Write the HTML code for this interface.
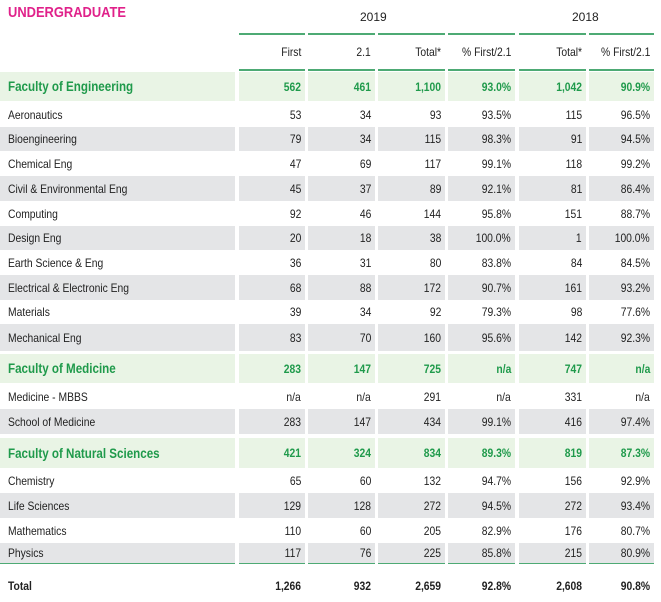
<!DOCTYPE html>
<html><head><meta charset="utf-8"><style>
body{margin:0;background:#fff;width:661px;height:602px;overflow:hidden;position:relative;font-family:"Liberation Sans",sans-serif;color:#222;}
.c{position:absolute;box-sizing:border-box;font-size:12px;display:flex;align-items:center;white-space:nowrap;}
.c span{display:inline-block;transform:scaleX(.86);}
.r{justify-content:flex-end;padding-right:4px;}
.r span{transform-origin:right center;}
.l{padding-left:8px;}
.l span{transform-origin:left center;}
.g{background:#e4e5e7}.f{background:#e9f4e5;color:#1f9a4b;font-weight:bold;}
.line{position:absolute;height:2px;background:#4daa74;}
</style></head><body>
<div class="c l" style="left:0px;top:2px;height:20px;color:#e0218a;font-weight:bold;font-size:15px"><span>UNDERGRADUATE</span></div>
<div class="c" style="left:360px;top:8px;height:18px;font-size:12px">2019</div>
<div class="c" style="left:572px;top:8px;height:18px;font-size:12px">2018</div>
<div id="t"></div>
<script>
const colX=[[239,305],[308,375],[378,445],[448,515],[519,586],[589,654]];
const headers=["First","2.1","Total*","% First/2.1","Total*","% First/2.1"];
const names=["Faculty of Engineering","Aeronautics","Bioengineering","Chemical Eng","Civil & Environmental Eng","Computing","Design Eng","Earth Science & Eng","Electrical & Electronic Eng","Materials","Mechanical Eng","Faculty of Medicine","Medicine - MBBS","School of Medicine","Faculty of Natural Sciences","Chemistry","Life Sciences","Mathematics","Physics","Total"];
const kinds=["f","w","g","w","g","w","g","w","g","w","g","f","w","g","f","w","g","w","g","t"];
const tops=[72,102,127,151,176,201,226,250,275,300,324,354,384,409,438,469,493,518,543,572];
const hts=[29,25,24,25,25,25,24,25,25,24,27,29,25,25,30,24,25,25,20,28];
const values=[
["562","461","1,100","93.0%","1,042","90.9%"],
["53","34","93","93.5%","115","96.5%"],
["79","34","115","98.3%","91","94.5%"],
["47","69","117","99.1%","118","99.2%"],
["45","37","89","92.1%","81","86.4%"],
["92","46","144","95.8%","151","88.7%"],
["20","18","38","100.0%","1","100.0%"],
["36","31","80","83.8%","84","84.5%"],
["68","88","172","90.7%","161","93.2%"],
["39","34","92","79.3%","98","77.6%"],
["83","70","160","95.6%","142","92.3%"],
["283","147","725","n/a","747","n/a"],
["n/a","n/a","291","n/a","331","n/a"],
["283","147","434","99.1%","416","97.4%"],
["421","324","834","89.3%","819","87.3%"],
["65","60","132","94.7%","156","92.9%"],
["129","128","272","94.5%","272","93.4%"],
["110","60","205","82.9%","176","80.7%"],
["117","76","225","85.8%","215","80.9%"],
["1,266","932","2,659","92.8%","2,608","90.8%"]];
const t=document.getElementById('t');
function mk(cls,x,y,w,h,txt){const d=document.createElement('div');d.className='c '+cls;d.style.cssText=`left:${x}px;top:${y}px;width:${w}px;height:${h}px`;const s=document.createElement('span');s.textContent=txt;d.appendChild(s);t.appendChild(d);return d;}
headers.forEach((h,i)=>{const d=mk('r',colX[i][0],36,colX[i][1]-colX[i][0],32,h);

});
colX.forEach(c=>{[33,69].forEach(y=>{const l=document.createElement('div');l.className='line';l.style.cssText=`left:${c[0]}px;top:${y}px;width:${c[1]-c[0]}px`;


t.appendChild(l);});});
[[0,235]].concat(colX).forEach(c=>{const l=document.createElement('div');l.className='line';l.style.cssText=`left:${c[0]}px;top:562px;width:${c[1]-c[0]}px`;


t.appendChild(l);});
names.forEach((n,r)=>{const k=kinds[r];const cls=k==='f'?'f':k==='g'?'g':'';
const bold=k==='t';
const lab=mk('l '+cls,0,tops[r],235,hts[r],n);
if(k==='f')lab.style.fontSize='13.5px';
if(bold)lab.style.fontWeight='bold';


values[r].forEach((v,i)=>{const d=mk('r '+cls,colX[i][0],tops[r],colX[i][1]-colX[i][0],hts[r],v);
if(bold)d.style.fontWeight='bold';

});});
</script>
</body></html>
